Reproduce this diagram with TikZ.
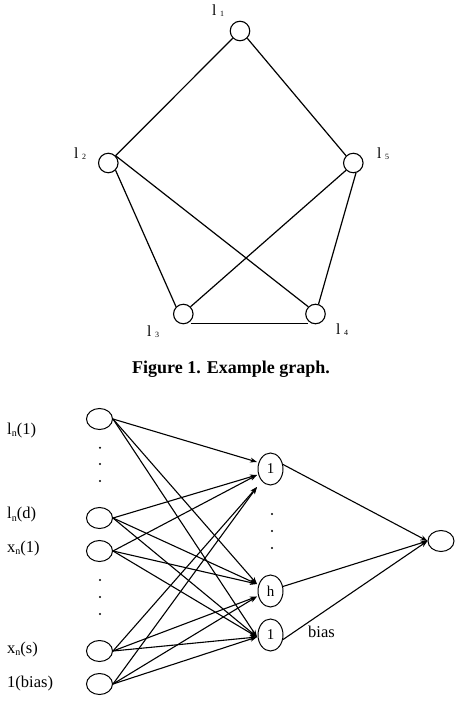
\documentclass[tikz,border=0pt]{standalone}
\usepackage{fontspec}
\setmainfont{Liberation Serif}
\usetikzlibrary{arrows.meta,shapes.geometric}
\newcommand{\gsub}[1]{\kern3.5pt\raisebox{-1pt}{\fontsize{8}{8}\selectfont #1}}
\newcommand{\nsub}{\raisebox{-2.5pt}{\fontsize{10}{10}\selectfont n}}
\begin{document}
\begin{tikzpicture}[x=1pt,y=-1pt,
  vtx/.style={circle,draw,line width=1.1pt,minimum size=19.5pt,inner sep=0pt},
  unit/.style={ellipse,draw,line width=1pt,minimum width=26pt,minimum height=21pt,inner sep=0pt},
  hid/.style={ellipse,draw,line width=1pt,minimum width=25pt,minimum height=32pt,inner sep=0pt,font=\fontsize{15}{15}\selectfont},
  edge/.style={line width=1.2pt},
  arr/.style={line width=1.1pt,-{Stealth[length=7pt,width=5pt]}},
  lab/.style={anchor=base west,inner sep=0pt,font=\fontsize{16.5}{18}\selectfont},
  glab/.style={anchor=base west,inner sep=0pt,font=\fontsize{15.5}{16}\selectfont},
  dot/.style={circle,fill,inner sep=0pt,minimum size=2.3pt}]
\useasboundingbox (0,0) rectangle (456,714);
% ---- Figure 1: graph ----
\node[vtx] (l1) at (240,31) {};
\node[vtx] (l2) at (108.3,163) {};
\node[vtx] (l5) at (353.3,163) {};
\node[vtx] (l3) at (183.3,314) {};
\node[vtx] (l4) at (315.5,314) {};
\node[glab] (t1) at (212,16) {l\gsub{1}};
\node[glab] (t2) at (74,159) {l\gsub{2}};
\node[glab] (t5) at (377,159) {l\gsub{5}};
\node[glab] (t3) at (147,336.5) {l\gsub{3}};
\node[glab] (t4) at (336,334) {l\gsub{4}};
\draw[edge] (l2.north east) -- (l1.south west);
\draw[edge] (l1.south east) -- (l5.north west);
\draw[edge] (l2.south east) -- (l3.north west);
\draw[edge] (l2.north east) -- (l4.north west);
\draw[edge] (l5.south west) -- (l3.north east);
\draw[edge] (l5.-75) -- (l4.73);
\draw[edge] ([yshift=-2.5pt]l3.south east) -- ([yshift=-2.5pt]l4.south west);
\node[anchor=base,inner sep=0pt,font=\bfseries\fontsize{18}{20}\selectfont] (cap) at (231,373.5) {Figure 1. Example graph.};
% ---- network ----
\node[lab] (la1) at (7,434) {l\nsub(1)};
\node[lab] (lad) at (7,518.5) {l\nsub(d)};
\node[lab] (lx1) at (7,552) {x\nsub(1)};
\node[lab] (lxs) at (7,653) {x\nsub(s)};
\node[lab] (lb) at (7,687) {1(bias)};
\node[unit] (I1) at (99.5,419) {};
\node[unit] (Id) at (99.5,518) {};
\node[unit] (Ix) at (99.5,551) {};
\node[unit] (Is) at (99.5,651) {};
\node[unit] (Ib) at (99.5,684) {};
\node[hid] (H1) at (270.5,469) {1};
\node[hid] (Hh) at (270.5,591) {h};
\node[hid] (Hb) at (270.5,635) {1};
\node[unit] (O) at (441,541) {};
\node[dot] (d1) at (100,447.7) {};
\node[dot] (d2) at (100,464) {};
\node[dot] (d3) at (100,481) {};
\node[dot] (d4) at (100,580) {};
\node[dot] (d5) at (100,597) {};
\node[dot] (d6) at (100,614) {};
\node[dot] (d7) at (272,514) {};
\node[dot] (d8) at (272,531) {};
\node[dot] (d9) at (272,548) {};
\coordinate (a1) at (257,462);
\coordinate (a2) at (257,475);
\coordinate (a3) at (257,487);
\coordinate (b1) at (257,584);
\coordinate (b2) at (257,596.5);
\coordinate (c1) at (257,637);
\foreach \s/\t in {I1/a1,I1/b1,I1/c1,Id/a2,Id/b1,Id/c1,Ix/a2,Ix/b1,Ix/c1,Is/a3,Is/b2,Is/c1,Ib/a3,Ib/b2,Ib/c1}
  \draw[arr] (\s.east) -- (\t);
\draw[arr] (H1.20) -- (O.west);
\draw[arr] (Hh.20) -- (O.west);
\draw[arr] (Hb.-20) -- (O.west);
\node[lab] (bl) at (308,637) {bias};
\end{tikzpicture}
\end{document}
